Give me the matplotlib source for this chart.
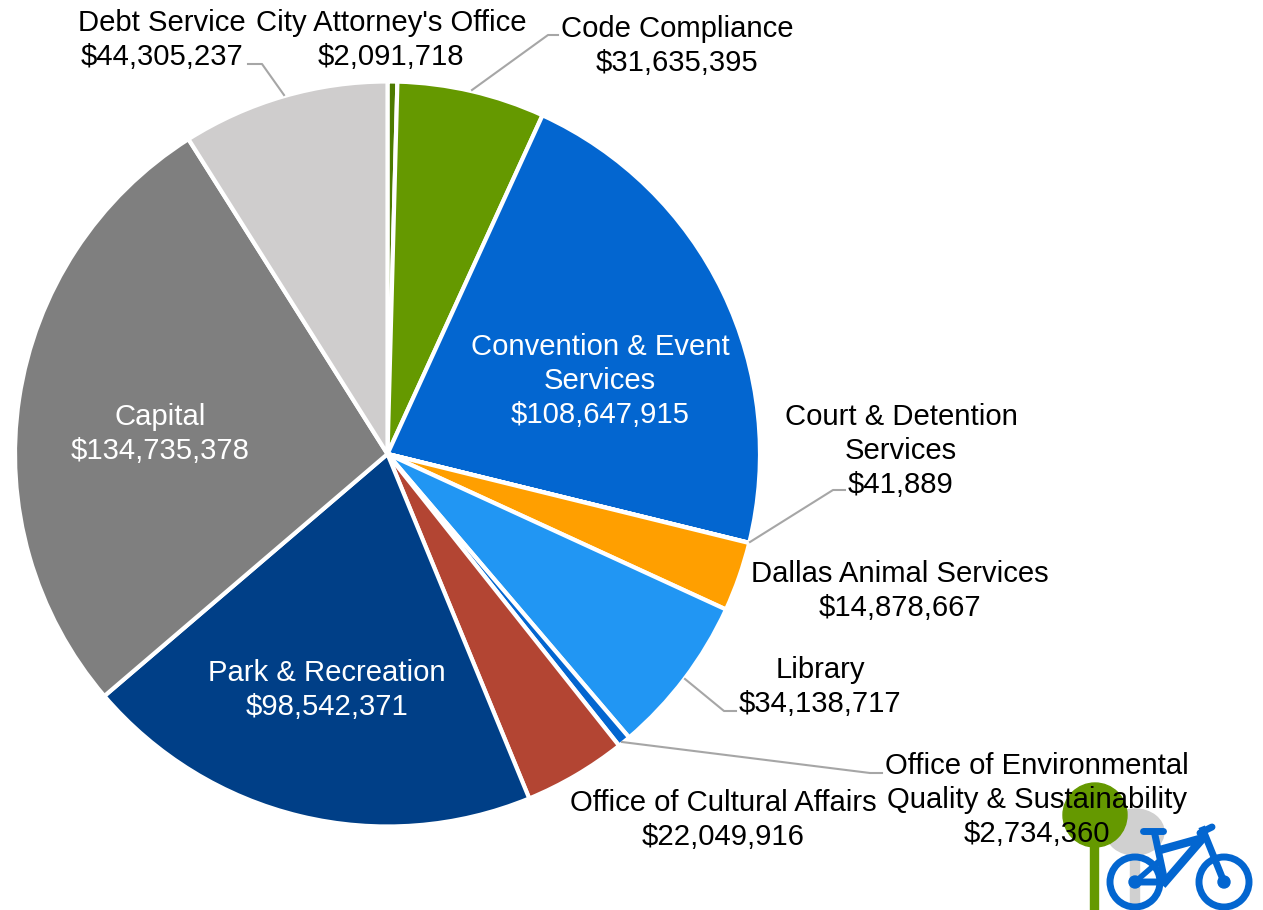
import matplotlib
matplotlib.use("Agg")
import matplotlib.pyplot as plt
from matplotlib.patches import Circle, Ellipse, Rectangle

plt.rcParams["font.family"] = ["Liberation Sans", "DejaVu Sans"]

# order is clockwise from the top of the pie
values = [2091718, 31635395, 108647915, 41889, 14878667, 34138717, 2734360, 22049916,
          98542371, 134735378, 44305237]
slice_colors = ["#4d7a00", "#659900", "#0366d0", "#808080", "#ff9f00", "#2196f3", "#0366d0",
                "#b34533", "#003f87", "#7f7f7f", "#cfcdcd"]
label_text = ["City Attorney's Office\n$2,091,718", "Code Compliance\n$31,635,395",
              "Convention & Event\nServices\n$108,647,915", "Court & Detention\nServices\n$41,889",
              "Dallas Animal Services\n$14,878,667", "Library\n$34,138,717",
              "Office of Environmental\nQuality & Sustainability\n$2,734,360",
              "Office of Cultural Affairs\n$22,049,916", "Park & Recreation\n$98,542,371",
              "Capital\n$134,735,378", "Debt Service\n$44,305,237"]
label_x = [391, 677, 600, 901, 900, 820, 1037, 723, 327, 160, 162]
label_y = [40, 46, 381, 451, 591, 687, 800, 820, 690, 434, 40]
label_color = ["black", "black", "white", "black", "black", "black", "black", "black",
               "white", "white", "black"]
leader_x = [[472, 548, 558], [750, 833, 845], [685, 724, 736], [622, 870, 882], [284, 262, 248]]
leader_y = [[90, 35, 35], [542, 490, 490], [679, 711, 711], [742, 773, 773], [95, 64, 64]]

fig = plt.figure(figsize=(12.63, 9.10), dpi=100)
ax = fig.add_axes([0, 0, 1, 1])

# y axis runs downward, so this goes clockwise on screen
ax.pie(values, colors=slice_colors, startangle=-90, counterclock=True,
       center=(387.5, 454), radius=372.5,
       wedgeprops={"edgecolor": "white", "linewidth": 3}, frame=True)
ax.set_xlim(0, 1263)
ax.set_ylim(910, 0)
ax.set_aspect("equal")
ax.axis("off")

for xs, ys in zip(leader_x, leader_y):
    ax.plot(xs, ys, color="#a6a6a6", lw=1.5, zorder=3)

# park and bike icon, bottom right
ax.add_patch(Ellipse((1135, 832), 58, 46, color="#d0d0d0", zorder=5))
ax.add_patch(Rectangle((1130, 850), 9, 60, color="#d0d0d0", zorder=5))
ax.add_patch(Rectangle((1090, 835), 8, 75, color="#659900", zorder=6))
ax.add_patch(Circle((1095, 815), 32, color="#659900", zorder=6))
blue = "#0366d0"
for cx in [1135, 1224]:
    ax.add_patch(Circle((cx, 882), 25, fill=False, ec=blue, lw=5, zorder=7))
    ax.add_patch(Circle((cx, 882), 6, color=blue, zorder=7))
ax.plot([1135, 1165, 1155], [882, 882, 835], color=blue, lw=5, zorder=7)
ax.plot([1135, 1158], [882, 862], color=blue, lw=4, zorder=7)
ax.plot([1160, 1203, 1165], [850, 838, 882], color=blue, lw=6, zorder=7)
ax.plot([1224, 1203], [882, 830], color=blue, lw=5, zorder=7)
ax.plot([1200, 1212], [833, 827], color=blue, lw=5, solid_capstyle="round", zorder=7)
ax.plot([1143, 1163], [831, 831], color=blue, lw=5, solid_capstyle="round", zorder=7)

for x, y, s, c in zip(label_x, label_y, label_text, label_color):
    ax.text(x, y, s, ha="center", va="center", fontsize=21.1, color=c, linespacing=1.27, zorder=8)

fig.savefig("out.png", dpi=100)
